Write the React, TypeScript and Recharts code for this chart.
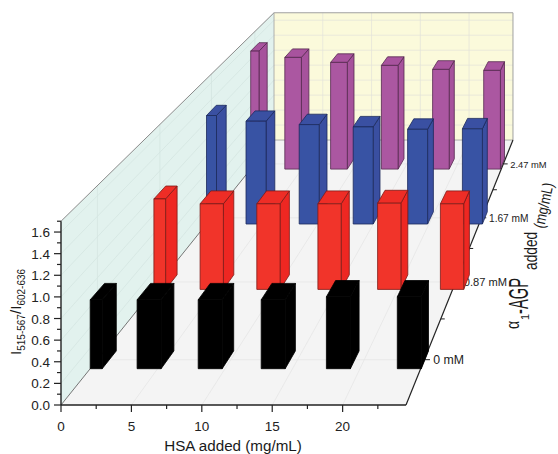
import React from 'react';
import { ScatterChart, Scatter, XAxis, YAxis } from 'recharts';

const hsa0 = [0, 4.37, 8.9, 13.57, 18.4, 23.66];
const hsa087 = [0, 4.74, 9.39, 14.4, 19.3, 24.45];
const hsa167 = [0, 4.45, 9.23, 14.08, 18.97, 23.9];
const hsa247 = [0, 4.15, 8.63, 13.6, 18.6, 23.6];

const ratio0 = [0.666, 0.666, 0.666, 0.666, 0.695, 0.695];
const ratio087 = [0.967, 0.914, 0.914, 0.914, 0.921, 0.914];
const ratio167 = [1.27, 1.203, 1.164, 1.137, 1.109, 1.114];
const ratio247 = [1.503, 1.423, 1.359, 1.321, 1.27, 1.257];

const rowLabels = ['0 mM', '0.87 mM', '1.67 mM', '2.47 mM'];
const rowDepths = [0.125, 0.375, 0.625, 0.875];
const minorDepths = [0.25, 0.5, 0.75];

const xTicks = [0, 2.5, 5, 7.5, 10, 12.5, 15, 17.5, 20, 22.5];
const xGrid = [5, 10, 15, 20];
const yTicks = [0, 0.1, 0.2, 0.3, 0.4, 0.5, 0.6, 0.7, 0.8, 0.9, 1.0, 1.1, 1.2, 1.3, 1.4, 1.5, 1.6, 1.7];
const yGrid = [0.2, 0.4, 0.6, 0.8, 1.0, 1.2, 1.4, 1.6];

const X_MAX = 24.5;
const Y_MAX = 1.7;

// front plane of the box in page pixels, and the vanishing point of the floor
const LEFT = 61;
const RIGHT = 406;
const BOTTOM = 405;
const TOP = BOTTOM - 108.1 * Y_MAX;
const VX = 754;
const VY = -457;
const BACK = 0.4438; // back plane is 1/(1+BACK) of the front one
const BAR_D = 0.052; // depth units

const pxX = (x: number) => LEFT + ((RIGHT - LEFT) * x) / X_MAX;
const pxY = (y: number) => BOTTOM - ((BOTTOM - TOP) * y) / Y_MAX;
const persp = (z: number) => 1 / (1 + BACK * z);
const project = (px: number, py: number, z: number): [number, number] => {
  const s = persp(z);
  return [VX + (px - VX) * s, VY + (py - VY) * s];
};
const pts = (list: [number, number][]) => list.map((p) => p[0].toFixed(1) + ',' + p[1].toFixed(1)).join(' ');

const makeRow = (xs: number[], ys: number[], depth: number) =>
  xs.map((hsa, i) => ({ hsa, ratio: ys[i], depth }));

// barW is in HSA units
const makeBar = (barW: number, fill: string, side: string, top: string, stroke: string) => (props: any) => {
  const { cx, cy, payload } = props;
  const half = (barW / 2) * ((RIGHT - LEFT) / X_MAX);
  const l = Math.max(cx - half, LEFT);
  const r = cx + half;
  const zf = payload.depth - BAR_D / 2;
  const zb = payload.depth + BAR_D / 2;
  const front: [number, number][] = [project(l, BOTTOM, zf), project(r, BOTTOM, zf), project(r, cy, zf), project(l, cy, zf)];
  const sideFace: [number, number][] = [project(r, BOTTOM, zf), project(r, BOTTOM, zb), project(r, cy, zb), project(r, cy, zf)];
  const topFace: [number, number][] = [project(l, cy, zf), project(r, cy, zf), project(r, cy, zb), project(l, cy, zb)];
  return (
    <g stroke={stroke} strokeWidth={0.8} strokeLinejoin="round">
      <polygon points={pts(sideFace)} fill={side} />
      <polygon points={pts(topFace)} fill={top} />
      <polygon points={pts(front)} fill={fill} />
    </g>
  );
};

const Box = () => {
  const gridColor = '#e2e2da';
  const floor = [project(LEFT, BOTTOM, 0), project(RIGHT, BOTTOM, 0), project(RIGHT, BOTTOM, 1), project(LEFT, BOTTOM, 1)];
  const side = [project(LEFT, BOTTOM, 0), project(LEFT, BOTTOM, 1), project(LEFT, TOP, 1), project(LEFT, TOP, 0)];
  const back = [project(LEFT, BOTTOM, 1), project(RIGHT, BOTTOM, 1), project(RIGHT, TOP, 1), project(LEFT, TOP, 1)];
  const seg = (a: [number, number], b: [number, number], color: string, key: string, w = 0.7) => (
    <line key={key} x1={a[0]} y1={a[1]} x2={b[0]} y2={b[1]} stroke={color} strokeWidth={w} />
  );
  return (
    <g>
      <polygon points={pts(floor)} fill="#f4f4f4" />
      <polygon points={pts(side)} fill="#e2f2ee" />
      <polygon points={pts(back)} fill="#fbfadb" />
      {xGrid.map((x) => seg(project(pxX(x), BOTTOM, 0), project(pxX(x), BOTTOM, 1), '#e4e4e4', 'f' + x))}
      {xGrid.map((x) => seg(project(pxX(x), BOTTOM, 1), project(pxX(x), TOP, 1), gridColor, 'b' + x))}
      {yGrid.map((y) => seg(project(LEFT, pxY(y), 1), project(RIGHT, pxY(y), 1), gridColor, 'h' + y))}
      {yGrid.map((y) => seg(project(LEFT, pxY(y), 0), project(LEFT, pxY(y), 1), '#d3e4df', 'w' + y))}
      {rowDepths.map((z) => seg(project(LEFT, BOTTOM, z), project(RIGHT, BOTTOM, z), '#e4e4e4', 'r' + z))}
      {rowDepths.map((z) => seg(project(LEFT, BOTTOM, z), project(LEFT, TOP, z), '#d3e4df', 'v' + z))}
      {seg(project(LEFT, BOTTOM, 0), project(LEFT, BOTTOM, 1), '#666666', 'e1', 0.9)}
      {seg(project(LEFT, TOP, 0), project(LEFT, TOP, 1), '#8a8a8a', 'e2', 1)}
      {seg(project(LEFT, TOP, 1), project(RIGHT, TOP, 1), '#a0a0a0', 'e3', 1)}
      {seg(project(LEFT, BOTTOM, 1), project(LEFT, TOP, 1), '#a0a0a0', 'e4', 0.8)}
      {seg(project(RIGHT, BOTTOM, 1), project(RIGHT, TOP, 1), '#a0a0a0', 'e5', 1)}
      {seg(project(LEFT, BOTTOM, 1), project(RIGHT, BOTTOM, 1), '#9a9a9a', 'e6', 0.8)}
      {seg(project(RIGHT, BOTTOM, 0), project(RIGHT, BOTTOM, 1), '#222222', 'e7', 1.2)}
      {rowDepths.map((z, i) => {
        const p = project(RIGHT, BOTTOM, z);
        const s = persp(z);
        return (
          <g key={z}>
            <line x1={p[0]} y1={p[1]} x2={p[0] + 6 * s} y2={p[1]} stroke="#222222" strokeWidth={1} />
            <text x={p[0] + 9.5 * s} y={p[1] + 4} fontSize={13 * s} fill="#222222" fontFamily="Liberation Sans">
              {rowLabels[i]}
            </text>
          </g>
        );
      })}
      {minorDepths.map((z) => {
        const p = project(RIGHT, BOTTOM, z);
        return <line key={z} x1={p[0]} y1={p[1]} x2={p[0] + 4} y2={p[1]} stroke="#222222" strokeWidth={1} />;
      })}
    </g>
  );
};

const Titles = () => (
  <g fontFamily="Liberation Sans" fill="#1a1a1a">
    <text x={233} y={451} fontSize={15.2} textAnchor="middle">HSA added (mg/mL)</text>
    <text transform="translate(21,355) rotate(-90)" fontSize={15.2}>
      I<tspan fontSize={10} dy={4}>515-567</tspan>
      <tspan dy={-4}>/I</tspan>
      <tspan fontSize={10} dy={4}>602-636</tspan>
    </text>
    <text transform="translate(519,329) rotate(-90) scale(1,1.25)" fontSize={14}>α</text>
    <text transform="translate(529,320) rotate(-90)" fontSize={11}>1</text>
    <text transform="translate(528,314) rotate(-90) scale(0.92,1.7)" fontSize={16}>-AGP</text>
    <text transform="translate(537,270) rotate(-90) scale(0.98,1.3)" fontSize={14}>added</text>
    <text transform="translate(544,229) rotate(-78) scale(1,1.25)" fontSize={12.4}>(mg/mL)</text>
  </g>
);

const XTick = (props: any) => {
  const { x, payload } = props;
  const major = payload.value % 5 === 0;
  return (
    <g>
      <line x1={x} y1={BOTTOM} x2={x} y2={BOTTOM + (major ? 7 : 4)} stroke="#222222" strokeWidth={1.2} />
      {major ? (
        <text x={x} y={BOTTOM + 26} textAnchor="middle" fontSize={13.5} fill="#222222" fontFamily="Liberation Sans">
          {payload.value}
        </text>
      ) : null}
    </g>
  );
};

const YTick = (props: any) => {
  const { y, payload } = props;
  const major = Math.round(payload.value * 10) % 2 === 0;
  return (
    <g>
      <line x1={LEFT} y1={y} x2={LEFT - (major ? 7 : 4)} y2={y} stroke="#222222" strokeWidth={1.2} />
      {major ? (
        <text x={LEFT - 11} y={y + 5} textAnchor="end" fontSize={13.5} fill="#222222" fontFamily="Liberation Sans">
          {payload.value.toFixed(1)}
        </text>
      ) : null}
    </g>
  );
};

export default function App() {
  return (
    <div style={{ position: 'absolute', left: 0, top: 0, width: 558, height: 454 }}>
      <ScatterChart
        width={558}
        height={454}
        margin={{ top: TOP, right: 558 - RIGHT, bottom: 0, left: 0 }}
      >
        <Box />
        <XAxis
          type="number"
          dataKey="hsa"
          domain={[0, X_MAX]}
          ticks={xTicks}
          interval={0}
          height={454 - BOTTOM}
          axisLine={{ stroke: '#222222', strokeWidth: 1.4 }}
          tickLine={false}
          tick={<XTick />}
        />
        <YAxis
          type="number"
          dataKey="ratio"
          domain={[0, Y_MAX]}
          ticks={yTicks}
          interval={0}
          width={LEFT}
          axisLine={{ stroke: '#222222', strokeWidth: 1.4 }}
          tickLine={false}
          tick={<YTick />}
        />
        <Scatter data={makeRow(hsa247, ratio247, rowDepths[3])} isAnimationActive={false} shape={makeBar(1.63, '#ab57a1', '#a6529c', '#a8539e', '#55284f')} />
        <Scatter data={makeRow(hsa167, ratio167, rowDepths[2])} isAnimationActive={false} shape={makeBar(1.8, '#3853a4', '#3a4fa1', '#3a50a2', '#1c2a5c')} />
        <Scatter data={makeRow(hsa087, ratio087, rowDepths[1])} isAnimationActive={false} shape={makeBar(1.91, '#f1342a', '#ee2722', '#ee2d26', '#7d1a16')} />
        <Scatter data={makeRow(hsa0, ratio0, rowDepths[0])} isAnimationActive={false} shape={makeBar(1.78, '#000000', '#000000', '#000000', '#000000')} />
        <Titles />
      </ScatterChart>
    </div>
  );
}
